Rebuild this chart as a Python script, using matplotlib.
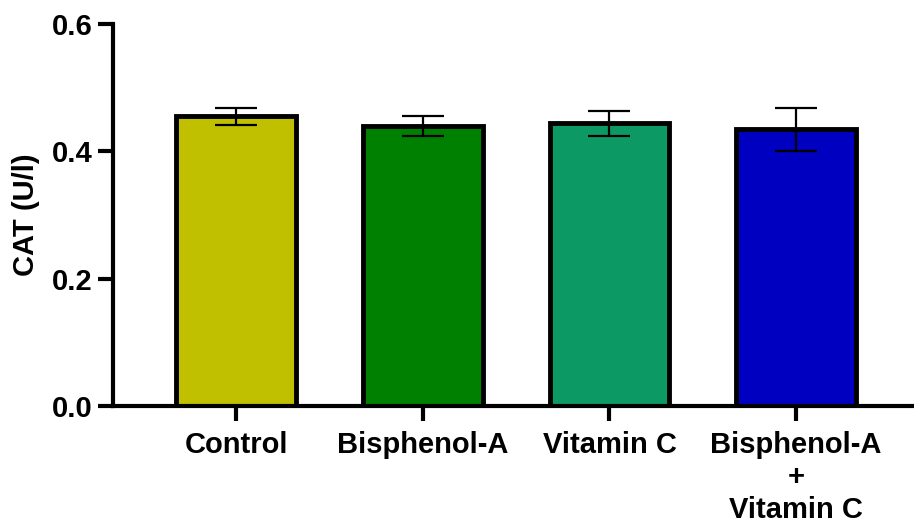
import numpy as np
import matplotlib.pyplot as plt

plt.rcParams['font.family'] = ['Liberation Sans', 'DejaVu Sans']
plt.rcParams['font.weight'] = 'bold'

groups = ["Control", "Bisphenol-A", "Vitamin C", "Bisphenol-A\n+\nVitamin C"]
cat_mean = [0.455, 0.440, 0.444, 0.435]
cat_err = [0.014, 0.015, 0.019, 0.034]
bar_colors = ["#C0C000", "#008000", "#0C9964", "#0000C0"]

fig = plt.figure(figsize=(9.14, 5.26), dpi=100)
ax = fig.add_axes([0.1236, 0.228, 0.874, 0.726])

x = np.arange(len(groups))
ax.bar(x, cat_mean, width=0.64, color=bar_colors, edgecolor="black",
       linewidth=3.5, zorder=2)
ax.errorbar(x, cat_mean, yerr=cat_err, fmt="none", ecolor="black",
            elinewidth=1.6, capsize=15, capthick=1.6, zorder=3)

ax.set_xlim(-0.66, 3.62)
ax.set_ylim(0, 0.6)
ax.set_yticks([0.0, 0.2, 0.4, 0.6])
ax.set_yticklabels(["0.0", "0.2", "0.4", "0.6"])
ax.set_xticks(x)
ax.set_xticklabels(groups, linespacing=1.2)
ax.set_ylabel("CAT (U/l)", fontsize=21, fontweight="bold", labelpad=8)

for side in ["top", "right"]:
    ax.spines[side].set_visible(False)
for side in ["left", "bottom"]:
    ax.spines[side].set_linewidth(3)
ax.tick_params(axis="both", width=3, length=11, labelsize=21, pad=4)
ax.tick_params(axis="x", pad=7)

fig.savefig("out.png", dpi=100)
